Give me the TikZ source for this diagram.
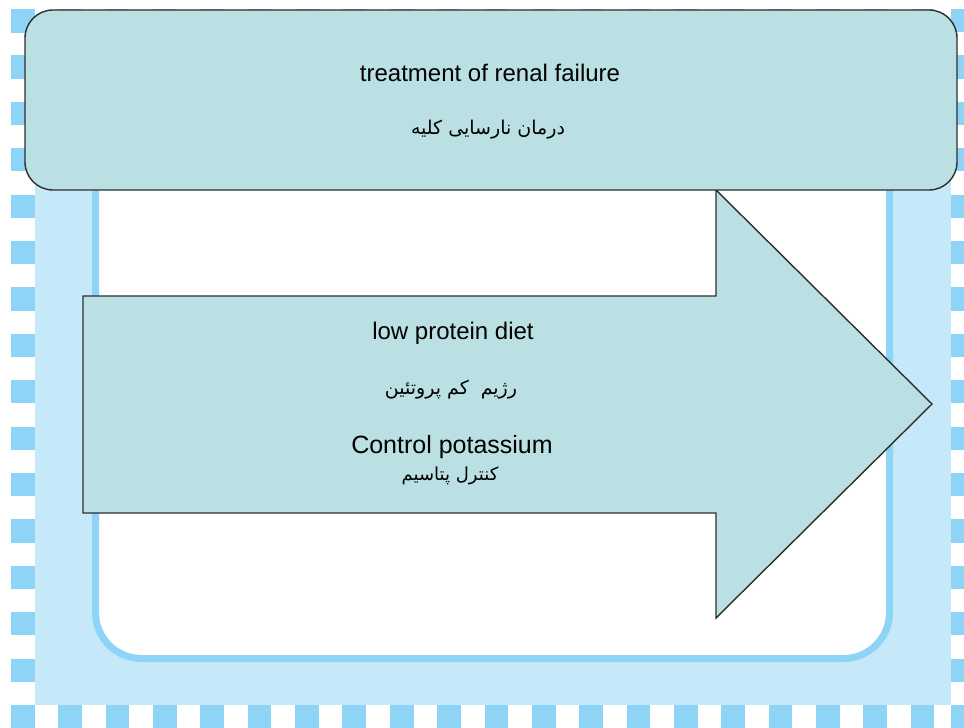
\documentclass[tikz,border=0pt]{standalone}
\usepackage{fontspec}
\setmainfont{Liberation Sans}
\newfontfamily\fa[Script=Arabic]{DejaVu Sans}
\TeXXeTstate=1
\definecolor{sqblue}{HTML}{8DD4F6}
\definecolor{bgblue}{HTML}{C6E9FA}
\definecolor{boxfill}{HTML}{BBE0E3}
\definecolor{edge}{HTML}{2E2E2E}
\tikzset{
  sq/.style={fill=sqblue},
  shapebox/.style={draw=edge, line width=1.4pt, fill=boxfill},
  entext/.style={inner sep=0pt, font=\fontsize{24}{28}\selectfont, text=black},
  fatext/.style={inner sep=0pt, font=\fa\fontsize{19}{23}\selectfont, text=black},
}
\begin{document}
\begin{tikzpicture}[x=1pt,y=-1pt]
\useasboundingbox (0,0) rectangle (964,728);
\fill[white] (0,0) rectangle (964,728);
% checkered border
\foreach \k in {0,...,15} {
  \fill[sq] (11,{9+46.4*\k}) rectangle (35,{9+46.4*\k+23.2});
  \fill[sq] (951,{9+46.4*\k}) rectangle (964,{9+46.4*\k+23.2});
}
\foreach \k in {0,...,19} {
  \fill[sq] ({11+47.35*\k},705) rectangle ({11+47.35*\k+23.7},728);
  \fill[sq] ({11+47.35*\k},9) rectangle ({11+47.35*\k+23.7},33);
}
% light blue field
\fill[bgblue] (35,33) rectangle (950.5,705);
% inner white rounded frame
\draw[sqblue, line width=7pt, fill=white, rounded corners=46pt] (95.5,120) rectangle (889.5,658.5);
% arrow
\draw[shapebox, line join=miter] (83,296) coordinate (a1) -- (716,296) -- (716,190) -- (932,404) coordinate (tip) -- (716,618) -- (716,513) -- (83,513) -- cycle;
% top box
\node[shapebox, rounded corners=28pt, minimum width=932pt, minimum height=180pt, inner sep=0pt] (box) at (491,100) {};
\node[entext] (t1) at (490,73) {treatment of renal failure};
\node[fatext] (t2) at (488,130) {\beginR درمان نارسایی کلیه\endR};
\node[entext] (a2) at (453,333) {low protein diet};
\node[fatext] (a3) at (451,390) {\beginR رژیم\hspace{12pt}کم پروتئین\endR};
\node[entext, font=\fontsize{25}{29}\selectfont] (a4) at (452,447) {Control potassium};
\node[fatext, font=\fa\fontsize{18}{22}\selectfont] (a5) at (450,476) {\beginR کنترل پتاسیم\endR};
\end{tikzpicture}
\end{document}
